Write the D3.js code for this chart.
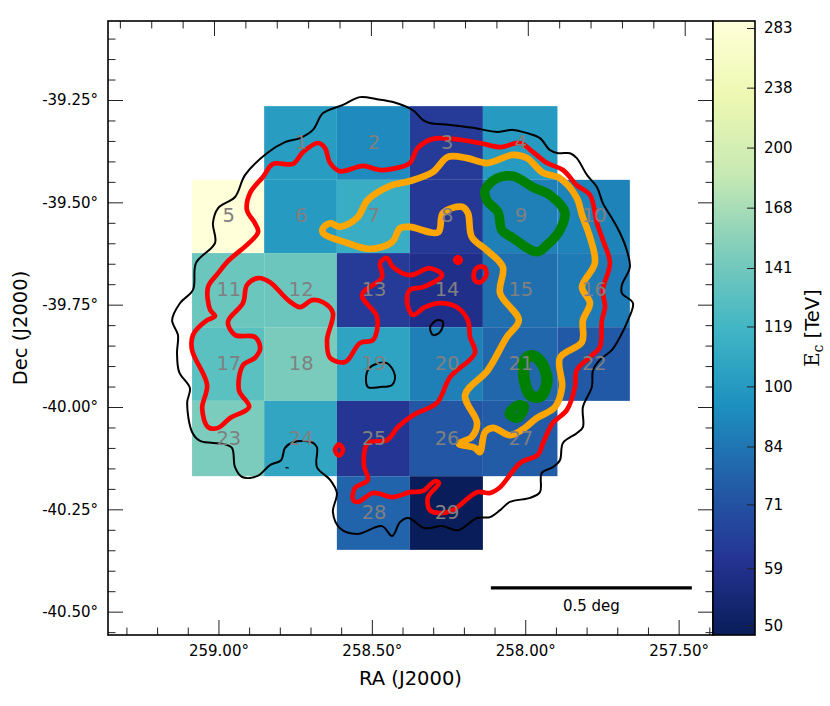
<!DOCTYPE html>
<html>
<head>
<meta charset="utf-8">
<script src="https://cdn.jsdelivr.net/npm/d3@7"></script>
<style>
  body { margin: 0; background: #fff; }
  text { font-family: "DejaVu Sans", sans-serif; }
</style>
</head>
<body>
<svg id="chart" width="830" height="706"></svg>
<script>
// analysis regions
const regionIds = d3.range(1, 30);
const regionCol = [1,2,3,4, 0,1,2,3,4,5, 0,1,2,3,4,5, 0,1,2,3,4,5, 0,1,2,3,4, 2,3];
const regionRow = [0,0,0,0, 1,1,1,1,1,1, 2,2,2,2,2,2, 3,3,3,3,3,3, 4,4,4,4,4, 5,5];
const regionEc = [102,92,63,100, 288,100,112,62,88,89, 138,139,63,58.6,82,86,
  130,145.6,106,88,79,73.8, 146,107,61,73,74.5, 78,48.7];
const raEdges = [259.086,258.851,258.614,258.376,258.138,257.895,257.659];
const decEdges = [-39.265,-39.445,-39.624,-39.805,-39.985,-40.169,-40.349];

const raTicks = [259,258.5,258,257.5];
const raMinor = [259.3,259.2,259.1,258.9,258.8,258.7,258.6,258.4,258.3,258.2,258.1,257.9,257.8,257.7,257.6,257.4];
const decTicks = [-39.25,-39.5,-39.75,-40,-40.25,-40.5];
const decMinor = [-39.1,-39.15,-39.2,-39.3,-39.35,-39.4,-39.45,-39.55,-39.6,-39.65,-39.7,-39.8,-39.85,-39.9,-39.95,
  -40.05,-40.1,-40.15,-40.2,-40.3,-40.35,-40.4,-40.45,-40.55];
const ecTicks = [283,238,200,168,141,119,100,84,71,59,50];
const ylGnBu = ["#081d58","#253494","#225ea8","#1d91c0","#41b6c4","#7fcdbb","#c7e9b4","#edf8b1","#ffffd9"];

const scaleBarRa = [258.112,257.457];
const scaleBarDec = -40.442;

// contours, [ra, dec]
const blackOuter = [[258.539,-39.243],[258.483,-39.248],[258.431,-39.255],[258.366,-39.275],[258.333,-39.299],[258.311,-39.306],
  [258.245,-39.311],[258.170,-39.318],[258.089,-39.328],[258.040,-39.323],[257.994,-39.331],[257.952,-39.343],[257.920,-39.372],
  [257.893,-39.380],[257.854,-39.380],[257.832,-39.392],[257.799,-39.433],[257.766,-39.463],[257.747,-39.502],[257.714,-39.543],
  [257.691,-39.575],[257.669,-39.617],[257.659,-39.658],[257.685,-39.702],[257.685,-39.722],[257.649,-39.746],[257.665,-39.788],
  [257.691,-39.829],[257.718,-39.861],[257.757,-39.885],[257.779,-39.910],[257.783,-39.951],[257.812,-40.000],[257.812,-40.049],
  [257.832,-40.064],[257.877,-40.088],[257.887,-40.130],[257.910,-40.147],[257.946,-40.161],[257.952,-40.208],[257.985,-40.222],
  [258.050,-40.232],[258.082,-40.252],[258.115,-40.269],[258.157,-40.271],[258.219,-40.301],[258.271,-40.291],[258.327,-40.296],
  [258.382,-40.271],[258.408,-40.281],[258.434,-40.315],[258.467,-40.291],[258.548,-40.310],[258.604,-40.296],[258.627,-40.257],
  [258.614,-40.210],[258.636,-40.178],[258.679,-40.147],[258.679,-40.098],[258.695,-40.086],[258.757,-40.086],[258.783,-40.100],
  [258.796,-40.130],[258.832,-40.142],[258.874,-40.169],[258.923,-40.171],[258.946,-40.147],[258.956,-40.100],[258.985,-40.090],
  [259.060,-40.083],[259.086,-40.061],[259.102,-39.990],[259.093,-39.954],[259.128,-39.915],[259.135,-39.868],[259.132,-39.824],
  [259.151,-39.788],[259.125,-39.746],[259.083,-39.714],[259.073,-39.648],[259.011,-39.599],[259.018,-39.551],[259.001,-39.514],
  [258.946,-39.487],[258.913,-39.433],[258.842,-39.380],[258.783,-39.353],[258.734,-39.343],[258.692,-39.323],[258.659,-39.282],
  [258.594,-39.262]];
const blackSmall = [[258.310,-39.805],[258.288,-39.788],[258.268,-39.792],[258.278,-39.817],[258.301,-39.824]];
const blackBlob = [[258.516,-39.915],[258.496,-39.898],[258.451,-39.893],[258.425,-39.922],[258.434,-39.946],[258.473,-39.951],[258.513,-39.951]];
const blackDot = [[258.780,-40.148],[258.772,-40.149]];

const redMain = [[259.011,-39.778],[259.027,-39.763],[259.034,-39.707],[259.001,-39.673],[258.972,-39.646],[258.871,-39.573],
  [258.881,-39.551],[258.907,-39.519],[258.897,-39.477],[258.855,-39.438],[258.822,-39.406],[258.757,-39.406],[258.724,-39.377],
  [258.675,-39.355],[258.653,-39.367],[258.636,-39.404],[258.604,-39.424],[258.529,-39.411],[258.473,-39.421],[258.408,-39.414],
  [258.376,-39.404],[258.350,-39.367],[258.301,-39.345],[258.236,-39.345],[258.148,-39.355],[258.082,-39.365],[258.017,-39.355],
  [257.975,-39.377],[257.929,-39.404],[257.877,-39.421],[257.832,-39.458],[257.789,-39.482],[257.766,-39.551],[257.747,-39.592],
  [257.724,-39.648],[257.747,-39.714],[257.740,-39.756],[257.750,-39.788],[257.757,-39.854],[257.789,-39.878],[257.832,-39.910],
  [257.838,-39.951],[257.864,-40.007],[257.910,-40.039],[257.942,-40.088],[257.959,-40.117],[258.017,-40.137],[258.082,-40.196],
  [258.115,-40.210],[258.157,-40.208],[258.236,-40.252],[258.278,-40.259],[258.311,-40.252],[258.317,-40.220],[258.281,-40.186],
  [258.294,-40.181],[258.333,-40.205],[258.376,-40.208],[258.431,-40.220],[258.496,-40.210],[258.545,-40.232],[258.561,-40.227],
  [258.555,-40.198],[258.513,-40.178],[258.526,-40.142],[258.513,-40.088],[258.451,-40.081],[258.415,-40.049],[258.366,-40.020],
  [258.288,-39.990],[258.245,-39.927],[258.164,-39.868],[258.180,-39.829],[258.187,-39.788],[258.223,-39.756],[258.278,-39.746],
  [258.327,-39.756],[258.366,-39.775],[258.385,-39.746],[258.376,-39.714],[258.333,-39.707],[258.271,-39.678],[258.311,-39.661],
  [258.376,-39.678],[258.431,-39.658],[258.451,-39.636],[258.473,-39.648],[258.467,-39.683],[258.532,-39.726],[258.483,-39.780],
  [258.496,-39.836],[258.539,-39.844],[258.587,-39.890],[258.636,-39.880],[258.646,-39.836],[258.627,-39.770],[258.659,-39.744],
  [258.695,-39.739],[258.734,-39.756],[258.773,-39.739],[258.832,-39.695],[258.871,-39.685],[258.907,-39.702],[258.920,-39.746],
  [258.969,-39.792],[258.946,-39.824],[258.881,-39.829],[258.864,-39.856],[258.881,-39.880],[258.920,-39.898],[258.933,-39.959],
  [258.900,-40.000],[258.962,-40.027],[259.001,-40.051],[259.034,-40.049],[259.053,-40.003],[259.037,-39.946],[259.086,-39.861],
  [259.083,-39.824],[259.037,-39.788]];
const redBlob = [[258.229,-39.641],[258.219,-39.634],[258.210,-39.641],[258.219,-39.648]];
const redRing = [[258.168,-39.675],[258.156,-39.659],[258.133,-39.659],[258.127,-39.678],[258.146,-39.695],[258.163,-39.692]];
const redSmall = [[258.620,-40.105],[258.607,-40.091],[258.594,-40.105],[258.607,-40.119]];

const orangeMain = [[258.659,-39.563],[258.636,-39.551],[258.604,-39.560],[258.548,-39.538],[258.513,-39.494],[258.441,-39.460],
  [258.376,-39.448],[258.301,-39.426],[258.252,-39.389],[258.190,-39.392],[258.125,-39.404],[258.040,-39.384],[257.994,-39.392],
  [257.942,-39.428],[257.887,-39.441],[257.832,-39.489],[257.815,-39.531],[257.789,-39.585],[257.773,-39.648],[257.815,-39.707],
  [257.789,-39.746],[257.812,-39.788],[257.815,-39.841],[257.887,-39.880],[257.880,-39.951],[257.903,-40.000],[257.962,-40.027],
  [258.011,-40.056],[258.050,-40.069],[258.105,-40.051],[258.131,-40.061],[258.148,-40.110],[258.164,-40.100],[258.216,-40.090],
  [258.174,-40.073],[258.157,-40.039],[258.196,-39.971],[258.122,-39.910],[258.060,-39.829],[258.021,-39.788],[258.082,-39.722],
  [258.073,-39.658],[258.125,-39.617],[258.174,-39.585],[258.187,-39.526],[258.206,-39.511],[258.268,-39.526],[258.284,-39.573],
  [258.376,-39.560],[258.408,-39.563],[258.434,-39.597],[258.506,-39.614],[258.581,-39.599],[258.659,-39.575]];

const greenLarge = [[258.131,-39.470],[258.092,-39.441],[258.040,-39.436],[257.975,-39.463],[257.920,-39.482],[257.871,-39.524],
  [257.887,-39.568],[257.929,-39.604],[257.962,-39.621],[258.040,-39.587],[258.076,-39.568],[258.089,-39.524],[258.125,-39.495]];
const greenD = [[258.001,-39.885],[257.978,-39.875],[257.949,-39.890],[257.929,-39.934],[257.949,-39.973],[257.981,-39.973],[258.001,-39.941]];
const greenSmall = [[258.052,-40.017],[258.027,-39.996],[258.003,-39.998],[258.024,-40.027]];

const plot = { left: 108, right: 713, top: 21, bottom: 635 };
const bar = { left: 713, right: 755 };

const svg = d3.select("#chart");

const x = d3.scaleLinear().domain([259.36, 257.388]).range([plot.left, plot.right]);
// RA lines converge towards the top edge, so the top ticks sit a bit wider apart
const xTop = d3.scaleLinear().domain([259, 257.5]).range([214, 684.7]);
const y = d3.scaleLinear().domain([-39.057, -40.557]).range([plot.top, plot.bottom]);

const colorT = d3.scaleLog().domain([48.6, 288.8]).range([0, 1]);
const colorStops = d3.scaleLinear().domain(ylGnBu.map((c, i) => i / 8)).range(ylGnBu);
const color = v => colorStops(colorT(v));
const yBar = d3.scaleLog().domain([48.6, 288.8]).range([plot.bottom, plot.top]);

// regions
svg.append("g").selectAll("rect")
  .data(regionIds)
  .join("rect")
  .attr("x", (d, i) => x(raEdges[regionCol[i]]))
  .attr("y", (d, i) => y(decEdges[regionRow[i]]))
  .attr("width", (d, i) => x(raEdges[regionCol[i] + 1]) - x(raEdges[regionCol[i]]))
  .attr("height", (d, i) => y(decEdges[regionRow[i] + 1]) - y(decEdges[regionRow[i]]))
  .attr("fill", (d, i) => color(regionEc[i]));

// contours
const line = d3.line()
  .x(d => x(d[0]))
  .y(d => y(d[1]))
  .curve(d3.curveCatmullRomClosed.alpha(0.5));

const contours = [
  { pts: blackOuter, color: "black", width: 2 },
  { pts: blackSmall, color: "black", width: 2 },
  { pts: blackBlob, color: "black", width: 2 },
  { pts: blackDot, color: "black", width: 1.2 },
  { pts: redMain, color: "red", width: 4.7 },
  { pts: redBlob, color: "red", width: 4.7 },
  { pts: redRing, color: "red", width: 4.7 },
  { pts: redSmall, color: "red", width: 4.7 },
  { pts: orangeMain, color: "orange", width: 6.7 },
  { pts: greenLarge, color: "green", width: 9.5 },
  { pts: greenD, color: "green", width: 11.5 },
  { pts: greenSmall, color: "green", width: 9.5 }
];

svg.append("g").selectAll("path")
  .data(contours)
  .join("path")
  .attr("d", d => line(d.pts))
  .attr("fill", "none")
  .attr("stroke", d => d.color)
  .attr("stroke-width", d => d.width)
  .attr("stroke-linejoin", "round");

// region numbers
svg.append("g").selectAll("text")
  .data(regionIds)
  .join("text")
  .attr("x", (d, i) => (x(raEdges[regionCol[i]]) + x(raEdges[regionCol[i] + 1])) / 2 + 0.7)
  .attr("y", (d, i) => (y(decEdges[regionRow[i]]) + y(decEdges[regionRow[i] + 1])) / 2 + 6)
  .attr("text-anchor", "middle")
  .attr("font-size", 19.5)
  .attr("fill", "#808080")
  .text(d => d);

// scale bar
svg.append("line")
  .attr("x1", x(scaleBarRa[0])).attr("x2", x(scaleBarRa[1]))
  .attr("y1", y(scaleBarDec)).attr("y2", y(scaleBarDec))
  .attr("stroke", "black").attr("stroke-width", 3.2);
svg.append("text")
  .attr("x", x((scaleBarRa[0] + scaleBarRa[1]) / 2))
  .attr("y", y(scaleBarDec) + 23)
  .attr("text-anchor", "middle")
  .attr("font-size", 15)
  .text("0.5 deg");

// axes, ticks point inwards
function styleAxis(g) {
  g.select(".domain").remove();
  g.selectAll("line").attr("stroke", "#222").attr("stroke-width", 1);
  g.selectAll("text").attr("font-size", 15).attr("fill", "black");
}

svg.append("g")
  .attr("transform", `translate(0,${plot.bottom})`)
  .call(d3.axisBottom(x).tickValues(raTicks).tickSize(-15).tickPadding(10).tickFormat(d => d.toFixed(2) + "°"))
  .call(styleAxis);
svg.append("g")
  .attr("transform", `translate(0,${plot.bottom})`)
  .call(d3.axisBottom(x).tickValues(raMinor).tickSize(-7.5).tickFormat(""))
  .call(styleAxis);
svg.append("g")
  .attr("transform", `translate(0,${plot.top})`)
  .call(d3.axisTop(xTop).tickValues(raTicks).tickSize(-15).tickFormat(""))
  .call(styleAxis);
svg.append("g")
  .attr("transform", `translate(0,${plot.top})`)
  .call(d3.axisTop(xTop).tickValues(raMinor).tickSize(-7.5).tickFormat(""))
  .call(styleAxis);
svg.append("g")
  .attr("transform", `translate(${plot.left},0)`)
  .call(d3.axisLeft(y).tickValues(decTicks).tickSize(-15).tickPadding(10).tickFormat(d => d.toFixed(2) + "°"))
  .call(styleAxis);
svg.append("g")
  .attr("transform", `translate(${plot.left},0)`)
  .call(d3.axisLeft(y).tickValues(decMinor).tickSize(-7.5).tickFormat(""))
  .call(styleAxis);
svg.append("g")
  .attr("transform", `translate(${plot.right},0)`)
  .call(d3.axisRight(y).tickValues(decTicks).tickSize(-15).tickFormat(""))
  .call(styleAxis);
svg.append("g")
  .attr("transform", `translate(${plot.right},0)`)
  .call(d3.axisRight(y).tickValues(decMinor).tickSize(-7.5).tickFormat(""))
  .call(styleAxis);

svg.append("rect")
  .attr("x", plot.left).attr("y", plot.top)
  .attr("width", plot.right - plot.left).attr("height", plot.bottom - plot.top)
  .attr("fill", "none").attr("stroke", "black").attr("stroke-width", 1.6);

svg.append("text")
  .attr("x", (plot.left + plot.right) / 2)
  .attr("y", 685)
  .attr("text-anchor", "middle")
  .attr("font-size", 19.5)
  .text("RA (J2000)");
svg.append("text")
  .attr("transform", `translate(27,${(plot.top + plot.bottom) / 2}) rotate(-90)`)
  .attr("text-anchor", "middle")
  .attr("font-size", 19.5)
  .text("Dec (J2000)");

// colour bar
const gradient = svg.append("defs").append("linearGradient")
  .attr("id", "ecGradient")
  .attr("x1", 0).attr("x2", 0).attr("y1", 1).attr("y2", 0);
gradient.selectAll("stop")
  .data(ylGnBu)
  .join("stop")
  .attr("offset", (d, i) => i / 8)
  .attr("stop-color", d => d);

svg.append("rect")
  .attr("x", bar.left).attr("y", plot.top)
  .attr("width", bar.right - bar.left).attr("height", plot.bottom - plot.top)
  .attr("fill", "url(#ecGradient)");

svg.append("g")
  .attr("transform", `translate(${bar.right},0)`)
  .call(d3.axisRight(yBar).tickValues(ecTicks).tickSize(-8).tickPadding(9).tickFormat(d => d))
  .call(styleAxis);

svg.append("rect")
  .attr("x", bar.left).attr("y", plot.top)
  .attr("width", bar.right - bar.left).attr("height", plot.bottom - plot.top)
  .attr("fill", "none").attr("stroke", "black").attr("stroke-width", 1.6);

const ecLabel = svg.append("text")
  .attr("transform", `translate(819,328) rotate(-90)`)
  .attr("text-anchor", "middle")
  .attr("font-size", 19.5);
ecLabel.append("tspan").attr("font-family", "DejaVu Serif").text("E");
ecLabel.append("tspan").attr("font-size", 14).attr("dy", 4).attr("font-family", "DejaVu Serif").text("c");
ecLabel.append("tspan").attr("dy", -4).text(" [TeV]");
</script>
</body>
</html>
